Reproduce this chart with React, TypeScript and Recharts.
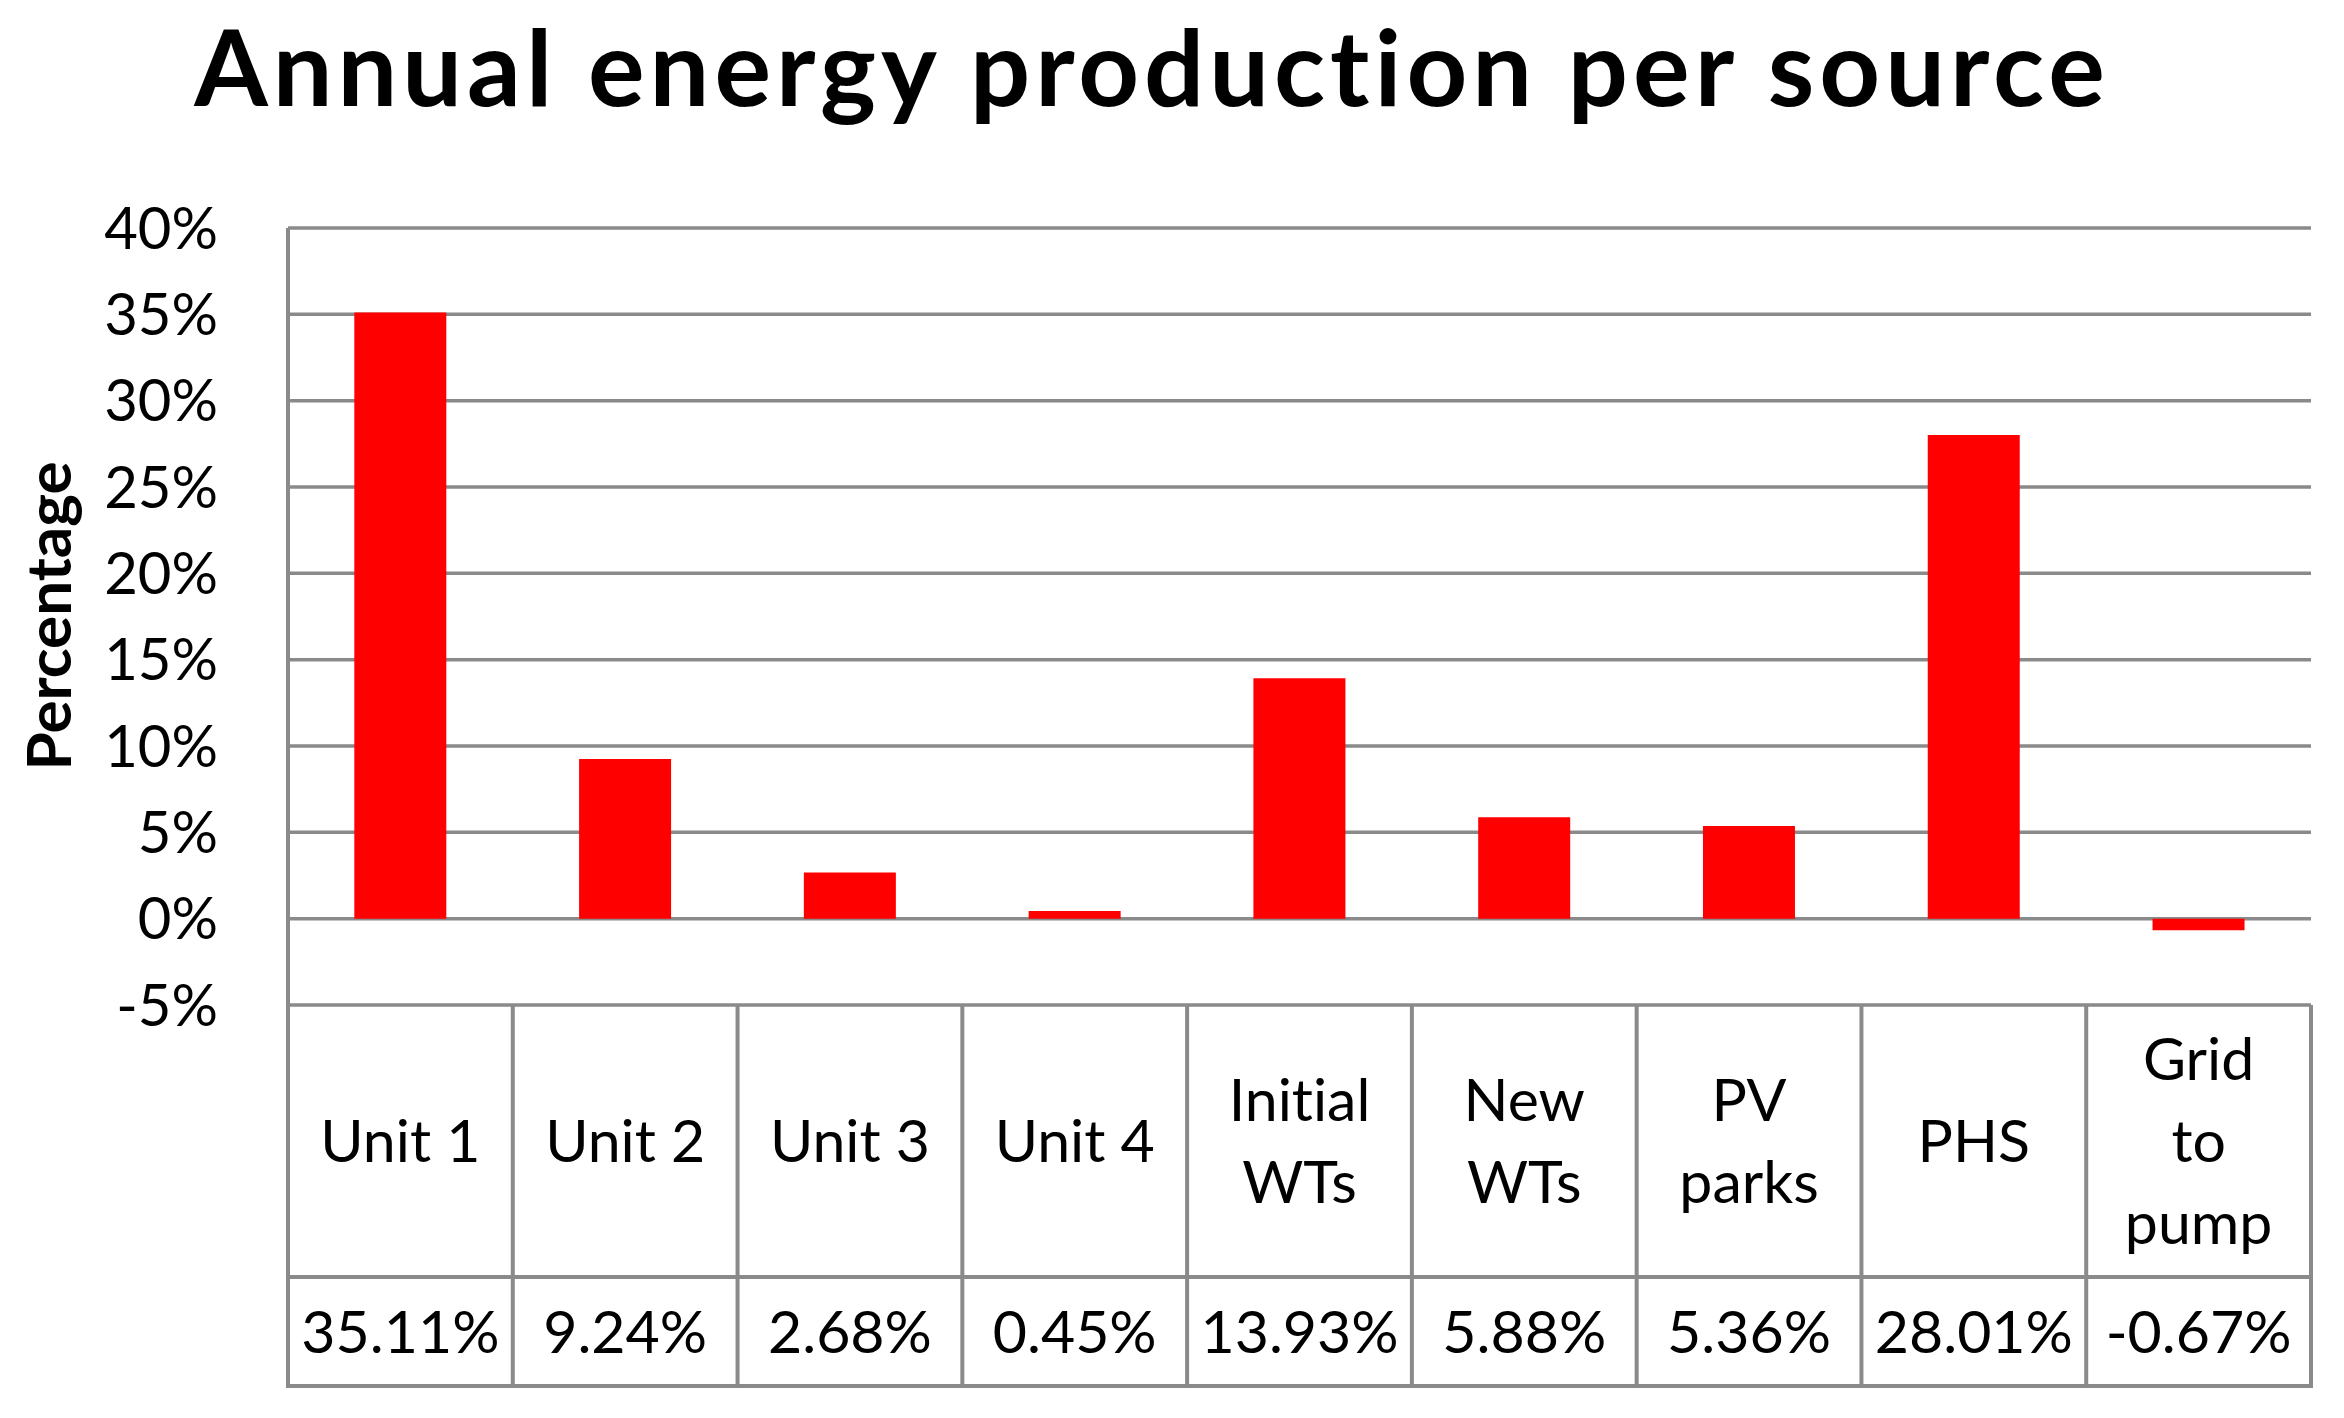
import React from 'react';
import { BarChart, Bar, XAxis, YAxis, CartesianGrid } from 'recharts';

const categories = ['Unit 1', 'Unit 2', 'Unit 3', 'Unit 4', 'Initial\nWTs', 'New\nWTs', 'PV\nparks', 'PHS', 'Grid\nto\npump'];
const values = [35.11, 9.24, 2.68, 0.45, 13.93, 5.88, 5.36, 28.01, -0.67];
const yTicks = [-5, 0, 5, 10, 15, 20, 25, 30, 35, 40];
const title = 'Annual energy production per source';
const yLabel = 'Percentage';

const data = categories.map((name, i) => ({ name, value: values[i] }));

const W = 2344;
const H = 1418;
const PLOT_LEFT = 288;
const PLOT_RIGHT = 2311;
const PLOT_TOP = 228;
const PLOT_BOTTOM = 1005;
const ROW1_H = 272;
const ROW2_H = 109;
const LINE = '#8A8A8A';
const FONT = 'Lato, "Open Sans", sans-serif';
const NOLIG = { fontVariantLigatures: 'none' as const };

const TableTick = (props: any) => {
  const { x, y, payload, index } = props;
  const bw = (PLOT_RIGHT - PLOT_LEFT) / categories.length;
  const left = x - bw / 2;
  const right = x + bw / 2;
  const top = y;
  const r1 = top + ROW1_H;
  const r2 = r1 + ROW2_H;
  const lines = String(payload.value).split('\n');
  const lh = 82;
  const c1 = (top + r1) / 2;
  const fs = 59;
  const baseOff = 0.36 * fs;
  const firstBase = c1 - ((lines.length - 1) * lh) / 2 + baseOff;
  const v = values[index];
  const c2 = (r1 + r2) / 2;
  return (
    <g>
      {index === 0 && <line x1={left} y1={top - 2} x2={left} y2={r2 + 2} stroke={LINE} strokeWidth={4} />}
      <line x1={right} y1={top} x2={right} y2={r2 + 2} stroke={LINE} strokeWidth={4} />
      <line x1={left} y1={r1} x2={right} y2={r1} stroke={LINE} strokeWidth={4} />
      <line x1={left} y1={r2} x2={right} y2={r2} stroke={LINE} strokeWidth={4} />
      {lines.map((t, i) => (
        <text key={i} x={x} y={firstBase + i * lh} textAnchor="middle" fontFamily={FONT} fontSize={fs} fill="#000" style={NOLIG}>
          {t}
        </text>
      ))}
      <text x={x} y={c2 + baseOff} textAnchor="middle" fontFamily={FONT} fontSize={fs} fill="#000">
        {v.toFixed(2) + '%'}
      </text>
    </g>
  );
};

export default function App() {
  return (
    <div style={{ position: 'absolute', left: 0, top: 0, width: W, height: H, background: '#fff' }}>
      <BarChart
        width={W}
        height={H}
        data={data}
        margin={{ top: PLOT_TOP, right: W - PLOT_RIGHT, left: 0, bottom: 0 }}
        barCategoryGap="29.5%"
      >
        <CartesianGrid vertical={false} stroke={LINE} strokeWidth={3.5} />
        <XAxis
          dataKey="name"
          height={H - PLOT_BOTTOM}
          axisLine={false}
          tickLine={false}
          tickSize={0}
          tickMargin={0}
          interval={0}
          tick={<TableTick />}
        />
        <YAxis
          width={PLOT_LEFT}
          domain={[-5, 40]}
          ticks={yTicks}
          interval={0}
          tickFormatter={(v: number) => `${v}%`}
          axisLine={{ stroke: LINE, strokeWidth: 4 }}
          tickLine={false}
          tickSize={0}
          tickMargin={70}
          tick={{ fill: '#000', fontSize: 58, fontFamily: FONT }}
        />
        <Bar dataKey="value" fill="#FF0000" isAnimationActive={false} />
      </BarChart>
      <svg width={W} height={H} style={{ position: 'absolute', left: 0, top: 0, pointerEvents: 'none' }}>
        <text x={1152} y={106} textAnchor="middle" fontFamily={FONT} fontWeight={700} fontSize={106} letterSpacing={5} fill="#000" style={NOLIG}>
          {title}
        </text>
        <text transform="translate(71, 616) rotate(-90)" x={0} y={0} textAnchor="middle" fontFamily={FONT} fontWeight={700} fontSize={62} fill="#000" style={NOLIG}>
          {yLabel}
        </text>
      </svg>
    </div>
  );
}
